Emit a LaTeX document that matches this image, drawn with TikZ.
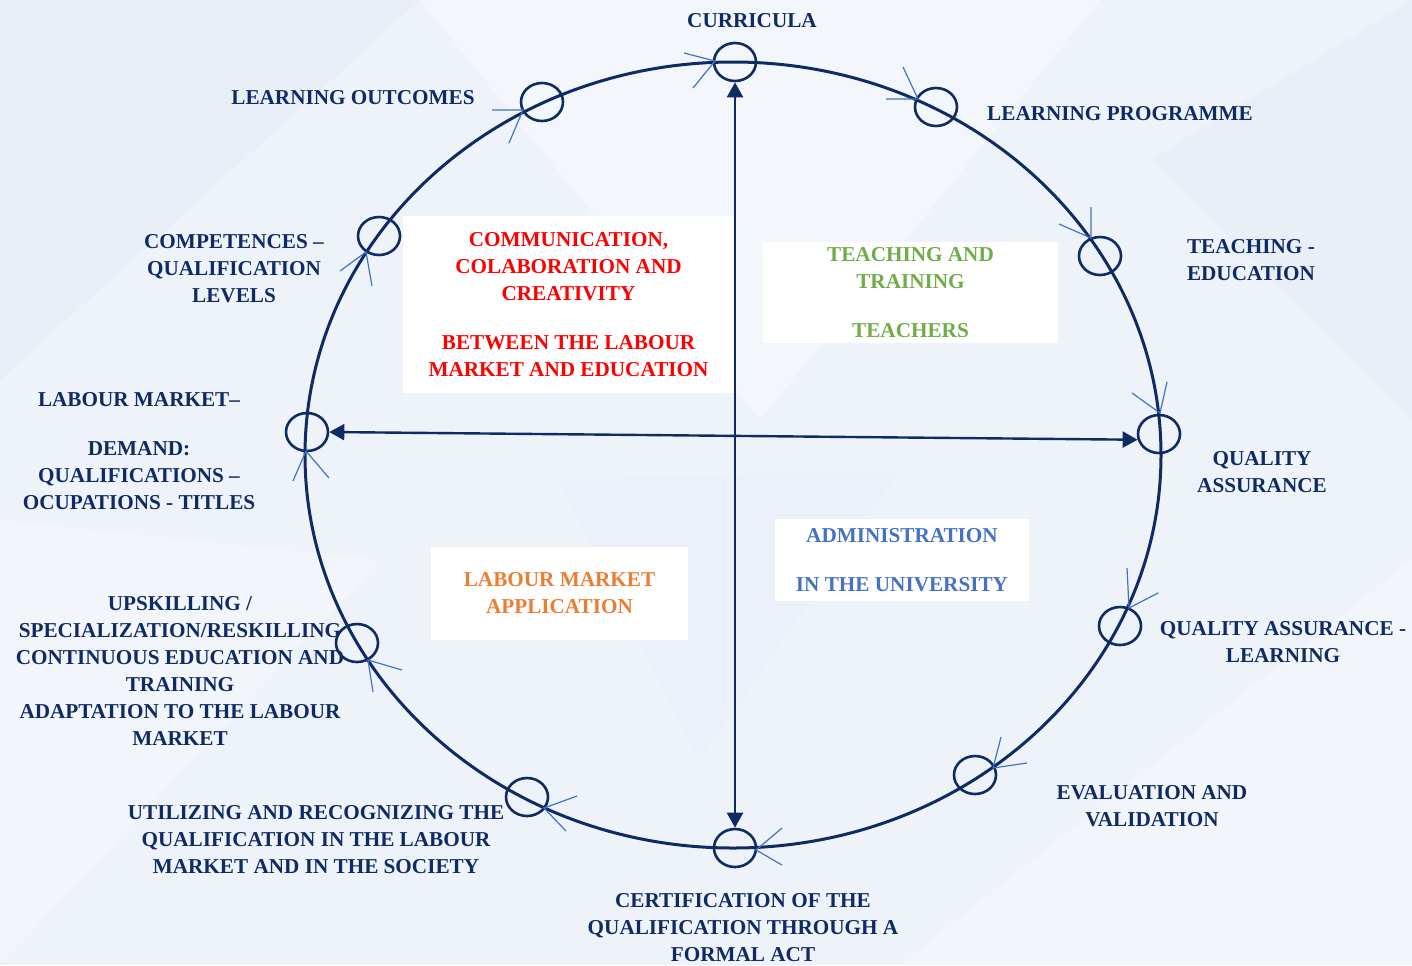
\documentclass[tikz,border=0pt]{standalone}
\usepackage{fontspec}
\setmainfont{Liberation Serif}
\usetikzlibrary{arrows.meta,shapes.geometric}
\definecolor{navy}{HTML}{102A63}
\definecolor{tickblue}{HTML}{4472C4}
\definecolor{bgA}{HTML}{EEF3F9}
\definecolor{bgB}{HTML}{F6F9FC}
\definecolor{bgC}{HTML}{E6EDF6}
\definecolor{redtxt}{HTML}{FF0000}
\definecolor{greentxt}{HTML}{70AD47}
\definecolor{orangetxt}{HTML}{ED7D31}
\definecolor{bluetxt}{HTML}{4472C4}
\begin{document}
\begin{tikzpicture}[x=0.5pt,y=-0.5pt,
  lbl/.style={font=\bfseries\fontsize{10.6}{13.5}\selectfont, text=navy, align=center, inner sep=0pt},
  boxlbl/.style={font=\bfseries\fontsize{10.6}{13.5}\selectfont, align=center, inner sep=0pt, fill=white},
  ring/.style={draw=navy, line width=1.5pt},
  knot/.style={draw=navy, line width=1.3pt, ellipse, minimum width=21pt, minimum height=19pt, inner sep=0pt},
  tick/.style={draw=tickblue, line width=0.6pt},
  arr/.style={draw=navy, line width=1.2pt, {Triangle[length=7.5pt,width=8pt]}-{Triangle[length=7.5pt,width=8pt]}}
]
% background
\useasboundingbox (0,0) rectangle (1412,965);
\fill[bgA] (0,0) rectangle (1412,965);
\fill[bgC, opacity=0.6] (0,0) -- (420,0) -- (0,380) -- cycle;
\fill[bgB, opacity=0.7] (420,0) -- (1100,0) -- (760,420) -- cycle;
\fill[bgC, opacity=0.5] (1412,0) -- (1412,420) -- (1150,160) -- cycle;
\fill[bgB, opacity=0.6] (0,520) -- (380,560) -- (0,965) -- cycle;
\fill[bgB, opacity=0.6] (900,965) -- (1412,560) -- (1412,965) -- cycle;
\fill[bgC, opacity=0.3] (560,480) -- (900,470) -- (700,760) -- cycle;

% central boxes
\node[boxlbl, text=redtxt, minimum width=165.5pt, minimum height=88.5pt] (redbox) at (568.5,304.5)
  {COMMUNICATION,\\COLABORATION AND\\CREATIVITY\\[11pt]BETWEEN THE LABOUR\\MARKET AND EDUCATION};
\node[boxlbl, text=greentxt, minimum width=147.5pt, minimum height=50.5pt] (greenbox) at (910.5,292.5)
  {TEACHING AND\\TRAINING\\[11pt]TEACHERS};
\node[boxlbl, text=orangetxt, minimum width=128.5pt, minimum height=46.5pt] (orangebox) at (559.5,593.5)
  {LABOUR MARKET\\APPLICATION};
\node[boxlbl, text=bluetxt, minimum width=127pt, minimum height=41pt] (bluebox) at (902,560)
  {ADMINISTRATION\\[11pt]IN THE UNIVERSITY};

% main ellipse
\draw[ring] (733,455) ellipse [x radius=428, y radius=393];

% small circles
\node[knot] (k1) at (735,62) {};
\node[knot] (k2) at (936,107) {};
\node[knot] (k3) at (1100,256) {};
\node[knot] (k4) at (1159,434) {};
\node[knot] (k5) at (1120,626) {};
\node[knot] (k6) at (975,775) {};
\node[knot] (k7) at (735,848) {};
\node[knot] (k8) at (527,797) {};
\node[knot] (k9) at (357,643) {};
\node[knot] (k10) at (307,432) {};
\node[knot] (k11) at (379,236) {};
\node[knot] (k12) at (542,102) {};

% open arrow ticks
\coordinate (t1) at (715,61);   \draw[tick] (684,53) -- (t1) -- (693,88);
\coordinate (t2) at (918,99);   \draw[tick] (886,99) -- (t2) -- (903,67);
\coordinate (t3) at (1091,238); \draw[tick] (1091,207) -- (t3) -- (1059,224);
\coordinate (t4) at (1160,413); \draw[tick] (1132,393) -- (t4) -- (1167,382);
\coordinate (t5) at (1129,608); \draw[tick] (1127,568) -- (t5) -- (1158,593);
\coordinate (t6) at (993,768);  \draw[tick] (1001,737) -- (t6) -- (1027,763);
\coordinate (t7) at (756,850);  \draw[tick] (782,828) -- (t7) -- (782,865);
\coordinate (t8) at (544,808);  \draw[tick] (577,796) -- (t8) -- (566,831);
\coordinate (t9) at (368,660);  \draw[tick] (402,670) -- (t9) -- (373,692);
\coordinate (t10) at (306,451); \draw[tick] (293,481) -- (t10) -- (329,478);
\coordinate (t11) at (366,252); \draw[tick] (340,271) -- (t11) -- (372,286);
\coordinate (t12) at (523,110); \draw[tick] (492,110) -- (t12) -- (509,143);

% axes
\draw[arr] (k1.south) -- (k7.north);
\draw[arr] (k10.east) -- (k4.195);

% labels
\node[lbl] (l1) at (752,21) {CURRICULA};
\node[lbl] (l2) at (1120,114) {LEARNING PROGRAMME};
\node[lbl, align=left] (l3) at (1251,260.5) {TEACHING -\\EDUCATION};
\node[lbl] (l4) at (1262,472) {QUALITY\\ASSURANCE};
\node[lbl] (l5) at (1283,642) {QUALITY ASSURANCE -\\LEARNING};
\node[lbl] (l6) at (1152,806.5) {EVALUATION AND\\VALIDATION};
\node[lbl] (l7) at (743,927.5) {CERTIFICATION OF THE\\QUALIFICATION THROUGH A\\FORMAL ACT};
\node[lbl] (l8) at (316,839.5) {UTILIZING AND RECOGNIZING THE\\QUALIFICATION IN THE LABOUR\\MARKET AND IN THE SOCIETY};
\node[lbl] (l9) at (180,670.5) {UPSKILLING /\\SPECIALIZATION/RESKILLING\\CONTINUOUS EDUCATION AND\\TRAINING\\ADAPTATION TO THE LABOUR\\MARKET};
\node[lbl] (l10) at (139,451) {LABOUR MARKET–\\[11pt]DEMAND:\\QUALIFICATIONS –\\OCUPATIONS - TITLES};
\node[lbl] (l11) at (234,268.5) {COMPETENCES –\\QUALIFICATION\\LEVELS};
\node[lbl] (l12) at (353,98) {LEARNING OUTCOMES};
\end{tikzpicture}
\end{document}
